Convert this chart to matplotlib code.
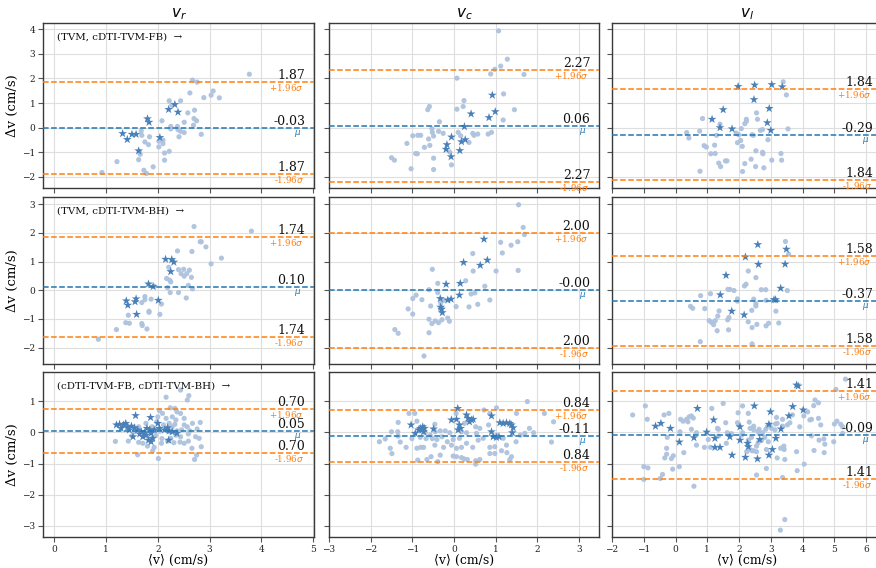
import matplotlib
matplotlib.use("Agg")
import matplotlib.pyplot as plt
import matplotlib.transforms as mtransforms

plt.rcParams["font.family"] = ["DejaVu Serif", "DejaVu Sans"]
plt.rcParams["mathtext.fontset"] = "dejavusans"
plt.rcParams["axes.unicode_minus"] = True

# ---------------------------------------------------------------------------
# Data: velocity components and method pairs
# ---------------------------------------------------------------------------
components = ["$v_r$", "$v_c$", "$v_l$"]
pair_labels = ["(TVM, cDTI-TVM-FB)  \u2192",
               "(TVM, cDTI-TVM-BH)  \u2192",
               "(cDTI-TVM-FB, cDTI-TVM-BH)  \u2192"]

# mean difference and 1.96*sd for each (pair, component)
bias = [[-0.03, 0.06, -0.29],
        [0.10, -0.00, -0.37],
        [0.05, -0.11, -0.09]]
loa = [[1.87, 2.27, 1.84],
       [1.74, 2.00, 1.58],
       [0.70, 0.84, 1.41]]

# (mean, difference) samples; dots = all subjects, stars = highlighted subjects
fb_r_dots = [(3.77, 2.17), (2.67, 1.93), (2.76, 1.85), (2.62, 1.41), (3.07, 1.49), (3.03, 1.32),
             (3.19, 1.21), (2.89, 1.22), (2.22, 1.09), (2.44, 1.09), (2.27, 0.91), (2.58, 0.60),
             (2.71, 0.71), (2.70, 0.37), (2.75, 0.28), (2.69, 0.10), (2.08, 0.28), (2.51, 0.22),
             (2.25, 0.05), (2.38, 0.05), (2.25, -0.05), (2.39, -0.08), (2.44, -0.15), (2.51, -0.20),
             (2.41, -0.37), (2.84, -0.27), (1.68, -0.13), (1.69, -0.31), (1.84, -0.37), (1.75, -0.58),
             (1.82, -0.69), (2.02, -0.55), (2.10, -0.51), (2.10, -0.65), (2.02, -0.78), (1.64, -0.98),
             (1.66, -1.08), (1.63, -1.30), (2.13, -1.03), (2.22, -0.96), (2.13, -1.32), (1.91, -1.59),
             (1.73, -1.73), (1.78, -1.86), (1.21, -1.38), (0.92, -1.82)]
fb_r_stars = [(1.32, -0.24), (1.41, -0.48), (1.50, -0.27), (1.58, -0.27), (1.63, -0.94), (1.80, 0.36),
              (1.83, 0.22), (2.04, -0.40), (2.21, 0.74), (2.33, 0.94), (2.39, 0.63)]

fb_c_dots = [(1.07, 3.93), (1.28, 2.78), (1.12, 2.50), (0.98, 2.37), (0.88, 2.18), (1.68, 2.16),
             (0.07, 2.01), (1.19, 1.37), (0.24, 1.10), (-0.59, 0.86), (-0.63, 0.73), (0.07, 0.75),
             (0.22, 0.86), (1.45, 0.73), (1.18, 0.31), (-0.35, 0.24), (-0.53, -0.04), (-0.52, -0.19),
             (-0.37, -0.15), (-0.26, -0.23), (-0.49, -0.34), (-0.61, -0.46), (-0.58, -0.72),
             (-0.71, -0.80), (-0.99, -0.33), (-0.87, -0.31), (-0.80, -0.31), (-1.13, -0.64),
             (-0.92, -1.05), (-0.88, -1.06), (-0.49, -1.24), (-0.49, -1.70), (-1.03, -1.67),
             (-1.50, -1.22), (-1.43, -1.32), (-0.10, -0.99), (-0.06, -1.51), (0.10, -0.19),
             (0.16, -0.33), (0.36, -0.60), (0.45, -0.23), (0.48, -0.31), (0.57, -0.26), (0.82, -0.26),
             (0.90, -0.19)]
fb_c_stars = [(0.92, 1.32), (0.99, 0.65), (0.84, 0.41), (0.41, 0.56), (0.25, 0.04), (-0.06, -0.38),
              (-0.17, -0.69), (-0.19, -0.88), (-0.07, -1.18), (0.14, -0.93), (0.18, -0.57), (0.27, -0.49)]

fb_l_dots = [(3.39, 1.86), (3.49, 1.33), (3.54, -0.05), (0.85, 0.37), (0.76, -0.14), (0.35, -0.20),
             (0.42, -0.42), (0.90, -0.73), (0.97, -0.79), (1.23, -0.71), (1.11, -1.06), (1.25, -1.05),
             (1.36, -1.44), (1.42, -1.58), (0.77, -1.77), (1.57, -1.35), (1.62, -1.35), (1.29, -0.31),
             (1.40, 0.14), (1.91, -0.22), (1.99, -0.29), (2.07, -0.04), (2.05, -0.52), (2.10, -0.76),
             (1.95, -0.61), (2.18, 0.16), (2.23, 0.34), (2.23, 0.26), (2.41, -0.29), (2.45, -0.31),
             (2.55, 0.60), (2.58, 0.34), (2.67, -0.11), (2.74, -0.08), (2.91, -0.49), (2.53, -0.94),
             (2.74, -1.00), (2.75, -1.06), (2.38, -1.28), (2.18, -1.46), (2.52, -1.58), (2.78, -1.63),
             (2.11, -1.78), (3.03, -1.32), (3.32, -1.05), (3.34, -1.32)]
fb_l_stars = [(1.97, 1.67), (2.49, 1.73), (3.03, 1.75), (3.36, 1.66), (2.47, 1.14), (2.95, 0.78),
              (1.50, 0.73), (1.15, 0.34), (1.40, 0.00), (1.78, -0.05), (2.89, 0.20), (3.00, -0.11)]

bh_r_dots = [(2.70, 2.22), (3.81, 2.06), (2.82, 1.69), (2.84, 1.69), (2.93, 1.51), (2.66, 1.35),
             (2.38, 1.37), (3.23, 1.12), (3.03, 0.92), (2.21, 0.80), (2.40, 0.72), (2.50, 0.73),
             (2.61, 0.70), (2.45, 0.58), (2.56, 0.58), (2.51, 0.49), (2.65, 0.45), (2.17, 0.41),
             (2.23, 0.35), (2.25, 0.29), (2.59, 0.17), (2.67, 0.05), (2.19, 0.09), (2.24, -0.08),
             (2.40, -0.08), (2.55, -0.27), (1.93, 0.14), (1.75, -0.22), (1.75, -0.33), (1.69, -0.43),
             (1.87, -0.31), (2.07, -0.48), (2.04, -0.84), (1.83, -0.73), (1.83, -0.77), (1.43, -0.87),
             (1.38, -1.13), (1.45, -1.15), (1.69, -1.16), (1.70, -1.23), (1.79, -1.35), (1.20, -1.37),
             (0.85, -1.71)]
bh_r_stars = [(2.15, 1.08), (2.27, 1.07), (2.31, 0.98), (2.25, 0.65), (1.82, 0.22), (1.91, 0.13),
              (2.01, -0.35), (1.39, -0.37), (1.42, -0.52), (1.58, -0.30), (1.56, -0.40), (1.59, -0.84)]

bh_c_dots = [(1.55, 2.98), (1.66, 2.19), (1.69, 1.94), (1.12, 1.67), (1.53, 1.69), (1.37, 1.57),
             (1.16, 1.30), (0.45, 1.28), (1.54, 0.69), (1.01, 0.67), (0.46, 0.67), (-0.52, 0.73),
             (-0.39, 0.24), (0.28, 0.33), (0.74, 0.14), (0.86, -0.34), (0.57, -0.49), (0.50, -0.09),
             (0.41, -0.13), (0.36, -0.58), (0.05, -0.57), (-0.60, 0.02), (-0.39, -0.08), (-0.91, -0.17),
             (-0.99, -0.29), (-0.77, -0.33), (-1.10, -0.65), (-0.99, -0.83), (-0.56, -0.55),
             (-0.32, -0.45), (-0.29, -0.62), (-0.60, -1.01), (-0.53, -1.16), (-0.45, -1.07),
             (-0.37, -1.13), (-0.29, -1.03), (-0.15, -0.97), (-0.11, -1.08), (-0.60, -1.48),
             (-1.42, -1.37), (-1.34, -1.50), (-0.72, -2.29), (-0.25, -0.35)]
bh_c_stars = [(0.72, 1.78), (0.23, 0.97), (0.80, 1.05), (0.63, 0.87), (0.15, 0.24), (-0.19, 0.21),
              (0.13, -0.17), (-0.33, -0.29), (-0.15, -0.34), (-0.07, -0.31), (-0.32, -0.59),
              (-0.30, -0.66), (-0.28, -0.78)]

bh_l_dots = [(3.46, 1.70), (3.56, 1.26), (3.52, -0.01), (2.29, 0.67), (2.53, 0.44), (2.22, 0.21),
             (2.17, 0.15), (1.65, 0.03), (1.71, 0.03), (1.84, -0.01), (1.10, -0.12), (0.79, -0.19),
             (0.47, -0.56), (0.54, -0.63), (0.92, -0.64), (1.37, -0.72), (1.33, -0.90), (1.06, -1.06),
             (1.13, -1.12), (1.20, -1.20), (1.25, -1.06), (1.31, -1.41), (1.67, -1.38), (1.64, -1.03),
             (1.68, -0.95), (0.78, -1.79), (1.95, -0.30), (1.95, -0.38), (2.29, -1.10), (2.41, -1.30),
             (2.40, -0.70), (2.46, -0.31), (2.53, -0.47), (2.53, -0.55), (2.70, 0.02), (2.84, 0.02),
             (2.85, -0.35), (3.16, -0.73), (2.56, -1.19), (2.85, -1.24), (2.93, -1.15), (3.25, -1.14),
             (2.41, -1.87)]
bh_l_stars = [(2.59, 1.59), (2.20, 1.16), (2.61, 0.90), (3.49, 1.43), (3.45, 0.91), (1.59, 0.52),
              (3.31, 0.07), (3.10, -0.33), (3.15, -0.33), (1.41, -0.16), (1.77, -0.73), (2.16, -0.86)]

fbbh_r_dots = [(2.44, 1.36), (2.60, 1.18), (2.16, 1.13), (2.57, 1.04), (2.24, 0.79), (2.33, 0.77),
               (2.03, 0.70), (2.09, 0.61), (2.37, 0.66), (2.44, 0.61), (2.28, 0.50), (2.16, 0.45),
               (2.00, 0.50), (2.51, 0.45), (2.35, 0.40), (2.82, 0.32), (2.67, 0.29), (1.98, 0.34),
               (2.11, 0.24), (2.22, 0.29), (2.33, 0.26), (2.57, 0.18), (2.76, 0.11), (2.46, 0.08),
               (2.16, 0.13), (2.04, 0.04), (2.23, 0.02), (2.35, -0.09), (2.44, -0.14), (2.59, -0.05),
               (2.73, -0.14), (2.80, -0.19), (2.59, -0.28), (2.43, -0.31), (2.19, -0.28), (2.08, -0.20),
               (1.96, -0.10), (1.84, -0.25), (1.71, -0.35), (1.63, -0.32), (1.80, -0.44), (1.93, -0.48),
               (1.90, -0.59), (2.07, -0.35), (2.84, -0.46), (2.66, -0.51), (2.01, -0.84), (2.71, -0.87),
               (2.75, -0.73), (1.61, -0.72), (1.18, -0.29), (1.43, -0.28), (1.50, -0.11), (1.77, -0.09),
               (1.55, 0.02), (1.89, 0.18), (1.77, 0.29), (1.63, 0.18), (1.96, 0.08), (2.51, 0.24),
               (2.28, 0.18), (2.37, 0.05), (2.62, 0.05), (1.90, -0.19), (2.25, -0.19), (2.51, -0.35),
               (2.31, -0.33)]
fbbh_r_stars = [(1.26, 0.26), (1.34, 0.24), (1.38, 0.29), (1.42, 0.18), (1.49, 0.20), (1.55, 0.15),
                (1.57, 0.54), (1.52, -0.14), (1.45, 0.08), (1.61, 0.08), (1.68, 0.02), (1.74, -0.01),
                (1.77, -0.09), (1.86, 0.48), (1.84, 0.08), (1.87, -0.03), (1.90, -0.19), (1.82, -0.25),
                (1.87, -0.30), (1.93, 0.08), (2.00, 0.29), (2.03, 0.13), (2.13, 0.08), (2.19, 0.15),
                (2.22, 0.05), (2.21, -0.25), (2.28, 0.02), (2.37, -0.03), (1.20, 0.24), (1.29, 0.13),
                (1.71, -0.14), (1.79, 0.13), (1.65, -0.05)]

fbbh_c_dots = [(1.76, 0.99), (1.02, 0.79), (0.72, 0.72), (-1.08, 0.61), (-0.94, 0.61), (0.05, 0.61),
               (0.86, 0.61), (1.50, 0.61), (2.17, 0.61), (-1.34, 0.32), (-0.89, 0.36), (-0.46, 0.26),
               (2.39, 0.34), (0.25, 0.29), (0.83, 0.24), (0.52, 0.18), (0.62, 0.13), (1.81, 0.13),
               (1.91, -0.01), (1.70, -0.03), (1.59, -0.09), (-1.50, 0.02), (-1.35, 0.02), (-1.34, -0.12),
               (-1.65, -0.21), (-1.79, -0.30), (-0.69, -0.01), (-0.57, -0.09), (-0.45, 0.02),
               (-0.33, 0.05), (-0.21, 0.05), (-0.29, -0.14), (-0.41, -0.23), (-0.52, -0.20),
               (-0.67, -0.20), (-0.81, -0.16), (-1.01, -0.20), (-1.29, -0.31), (-1.15, -0.48),
               (-1.53, -0.51), (-1.49, -0.68), (-0.80, -0.48), (-0.73, -0.48), (-0.46, -0.41),
               (-0.25, -0.48), (-0.06, -0.41), (0.06, -0.51), (0.18, -0.48), (-0.16, -0.30),
               (-0.02, -0.23), (0.13, -0.19), (0.30, -0.35), (0.45, -0.48), (0.58, -0.25), (0.70, -0.19),
               (0.54, -0.03), (0.30, -0.01), (0.18, 0.02), (-0.10, -0.01), (0.86, -0.48), (0.98, -0.46),
               (1.14, -0.59), (0.98, -0.68), (0.86, -0.68), (1.27, -0.65), (1.38, -0.78), (1.34, -0.87),
               (1.26, -0.41), (1.49, -0.30), (2.34, -0.31), (-0.55, -0.78), (-0.65, -0.87),
               (-0.87, -0.89), (-0.39, -0.94), (-0.02, -0.76), (0.06, -0.78), (0.18, -0.81),
               (0.24, -0.85), (0.32, -0.87), (0.52, -0.91), (0.52, -1.02), (0.62, -0.87), (-0.33, -0.73),
               (-0.89, -0.51), (1.02, -0.09), (1.18, -0.19)]
fbbh_c_stars = [(-1.03, 0.24), (-0.93, -0.03), (-0.81, 0.13), (-0.77, 0.08), (-0.75, 0.18),
                (-0.71, 0.13), (-0.85, 0.08), (-0.73, 0.02), (-0.49, 0.11), (0.09, 0.77), (-0.06, 0.40),
                (0.06, 0.42), (0.13, 0.24), (0.16, 0.13), (0.10, 0.08), (0.30, 0.56), (0.34, 0.45),
                (0.42, 0.40), (0.46, 0.42), (0.37, 0.34), (0.90, 0.53), (0.90, 0.02), (0.94, -0.14),
                (1.02, -0.16), (1.08, -0.14), (1.10, 0.31), (1.18, 0.29), (1.26, 0.31), (1.34, 0.29),
                (1.38, 0.24), (1.42, 0.15), (1.40, -0.01)]

fbbh_l_dots = [(5.35, 1.71), (3.30, -3.14), (3.44, -2.80), (-1.35, 0.56), (-0.95, 0.85), (-0.89, 0.42),
               (-0.36, 0.56), (-0.21, 0.61), (0.16, 0.42), (0.24, 0.36), (0.35, 0.42), (0.43, 0.50),
               (0.50, 0.53), (0.56, 0.46), (0.39, 0.34), (0.66, -0.01), (0.66, -0.41), (0.50, 0.10),
               (0.14, 0.02), (-0.26, -0.16), (-0.28, -0.51), (-0.34, -0.82), (-0.28, -0.70),
               (-0.07, -0.75), (-0.13, -0.84), (-0.09, -1.18), (0.12, -1.10), (0.26, -0.65),
               (-0.41, -1.35), (-0.48, -1.48), (-1.00, -1.10), (-0.87, -1.14), (-1.00, -1.51),
               (0.58, -1.73), (0.91, -0.48), (1.14, 0.77), (1.50, 0.93), (1.32, 0.13), (1.35, 0.10),
               (1.58, 0.31), (1.63, -0.01), (1.76, -0.04), (1.60, -0.35), (1.35, -0.12), (1.03, -0.23),
               (1.10, -0.48), (1.97, 0.63), (2.11, 0.85), (2.29, 0.61), (1.95, 0.31), (1.99, 0.24),
               (2.32, 0.33), (2.11, -0.01), (2.08, -0.09), (2.35, 0.13), (2.46, 0.20), (2.46, 0.08),
               (2.60, 0.02), (2.39, -0.16), (2.29, -0.25), (2.34, -0.55), (2.41, -0.59), (2.46, -0.59),
               (2.55, -0.62), (2.55, -0.44), (2.60, -0.33), (2.24, -0.62), (2.81, -0.16), (2.74, -0.01),
               (2.63, 0.10), (2.84, 0.10), (2.90, 0.20), (2.97, 0.24), (3.02, 0.13), (3.13, 0.08),
               (3.15, 0.27), (3.20, 0.29), (3.37, 0.42), (3.18, 0.48), (3.37, 0.20), (3.52, 0.24),
               (3.60, 0.31), (3.68, 0.56), (2.71, -0.25), (2.92, -0.30), (2.86, -0.55), (2.86, -1.16),
               (2.55, -1.37), (3.20, -0.82), (3.31, -0.51), (3.41, -0.44), (3.42, -0.55), (3.44, -0.87),
               (3.37, -1.45), (3.81, -0.62), (3.83, -1.23), (3.91, 0.18), (4.05, -1.02), (4.16, 0.66),
               (4.23, 0.40), (4.28, 0.42), (4.35, 0.86), (4.39, 1.04), (4.50, 0.95), (4.50, 0.45),
               (4.57, 0.24), (4.28, -0.11), (4.36, -0.58), (4.52, -0.25), (4.67, -0.21), (4.70, -0.38),
               (4.68, -0.65), (4.98, -0.30), (5.00, 0.27), (5.08, 0.36), (5.20, 0.26), (5.26, 0.18),
               (5.26, -0.03), (5.05, 1.38), (4.04, 0.53)]
fbbh_l_stars = [(3.81, 1.52), (3.86, 1.49), (-0.63, 0.20), (-0.46, 0.29), (-0.16, 0.13), (0.12, -0.31),
                (0.58, -0.17), (0.69, 0.77), (0.98, 0.01), (1.20, 0.40), (1.24, -0.19), (1.24, -0.48),
                (1.40, -0.48), (1.71, -0.14), (1.78, -0.73), (2.03, 0.18), (2.03, -0.25), (2.20, -0.80),
                (2.27, -0.35), (2.29, -0.46), (2.48, 0.85), (2.58, -0.85), (2.65, -0.23), (2.94, 0.26),
                (2.99, 0.66), (2.94, -0.73), (3.05, -0.55), (3.16, -0.19), (3.32, 0.11), (3.57, 0.53),
                (3.69, 0.83), (4.02, 0.72)]

dots = [[fb_r_dots, fb_c_dots, fb_l_dots],
        [bh_r_dots, bh_c_dots, bh_l_dots],
        [fbbh_r_dots, fbbh_c_dots, fbbh_l_dots]]
stars = [[fb_r_stars, fb_c_stars, fb_l_stars],
         [bh_r_stars, bh_c_stars, bh_l_stars],
         [fbbh_r_stars, fbbh_c_stars, fbbh_l_stars]]

x_ticks = [[0, 1, 2, 3, 4, 5], [-3, -2, -1, 0, 1, 2, 3], [-2, -1, 0, 1, 2, 3, 4, 5, 6]]
y_ticks = [[-2, -1, 0, 1, 2, 3, 4], [-2, -1, 0, 1, 2, 3], [-3, -2, -1, 0, 1]]
x_limits = [(-0.22, 5.02), (-3.0, 3.48), (-2.0, 6.5)]
y_limits = [(-2.45, 4.25), (-2.57, 3.25), (-3.36, 1.94)]

# ---------------------------------------------------------------------------
# Figure
# ---------------------------------------------------------------------------
W, H = 876, 568
fig = plt.figure(figsize=(W / 100, H / 100), dpi=100)

col_left = [43, 329, 612]
col_width = [271, 270, 270]
row_top = [23, 197, 372]
row_height = [165, 167, 165]

DOT_C = "#aec2de"
STAR_C = "#4a80b8"
MEAN_C = "#1f77b4"
LOA_C = "#ff7f0e"
SPINE_C = "#3a3a3a"

axes = [[None] * 3 for _ in range(3)]
for i in range(3):
    for j in range(3):
        rect = [col_left[j] / W, 1 - (row_top[i] + row_height[i]) / H,
                col_width[j] / W, row_height[i] / H]
        ax = fig.add_axes(rect)
        axes[i][j] = ax

        ax.set_xlim(*x_limits[j])
        ax.set_ylim(*y_limits[i])
        ax.set_xticks(x_ticks[j])
        ax.set_yticks(y_ticks[i])
        ax.grid(True, color="#dedede", linewidth=0.8, zorder=0)
        ax.set_axisbelow(True)
        for s in ax.spines.values():
            s.set_color(SPINE_C)
            s.set_linewidth(1.0)
        ax.tick_params(axis="both", direction="out", length=3.5, width=0.8,
                       color="#555555", labelsize=6.5, labelcolor="#222222", pad=2)
        if i < 2:
            ax.tick_params(axis="x", labelbottom=False)
        if j > 0:
            ax.tick_params(axis="y", labelleft=False)

        d = dots[i][j]
        ax.scatter([p[0] for p in d], [p[1] for p in d], s=14, color=DOT_C,
                   edgecolors="none", alpha=0.95, zorder=2)
        st = stars[i][j]
        ax.scatter([p[0] for p in st], [p[1] for p in st], s=44, marker="*",
                   color=STAR_C, edgecolors="none", zorder=3)

        m = bias[i][j]
        k = loa[i][j]
        ax.axhline(m, color=MEAN_C, linestyle="--", linewidth=1.1, zorder=4)
        ax.axhline(m + k, color=LOA_C, linestyle="--", linewidth=1.1, zorder=4)
        ax.axhline(m - k, color=LOA_C, linestyle="--", linewidth=1.1, zorder=4)

        trans = mtransforms.blended_transform_factory(ax.transAxes, ax.transData)
        xr = 0.968
        ax.text(xr, m + k, f"{k:.2f}", transform=trans, ha="right", va="bottom",
                fontsize=9, color="#111111", zorder=5)
        ax.text(xr - 0.005, m + k, "+1.96$\\sigma$", transform=trans, ha="right", va="top",
                fontsize=6.3, color=LOA_C, zorder=5)
        ax.text(xr, m, f"{m:.2f}", transform=trans, ha="right", va="bottom",
                fontsize=9, color="#111111", zorder=5)
        ax.text(xr - 0.015, m, "$\\mu$", transform=trans, ha="right", va="top",
                fontsize=6.3, color=MEAN_C, zorder=5)
        ax.text(xr, m - k, f"{k:.2f}", transform=trans, ha="right", va="bottom",
                fontsize=9, color="#111111", zorder=5)
        ax.text(xr - 0.005, m - k, "-1.96$\\sigma$", transform=trans, ha="right", va="top",
                fontsize=6.3, color=LOA_C, zorder=5)

    axes[i][0].set_ylabel("\u0394v (cm/s)", fontsize=9.5, labelpad=2)
    axes[i][0].text(0.05, 0.915, pair_labels[i], transform=axes[i][0].transAxes,
                    ha="left", va="center", fontsize=7.4, color="#111111", zorder=6)

for j in range(3):
    axes[0][j].set_title(components[j], fontsize=11, pad=4)
    axes[2][j].set_xlabel("\u27e8v\u27e9 (cm/s)", fontsize=9, labelpad=0)

fig.savefig("out.png", dpi=100)
